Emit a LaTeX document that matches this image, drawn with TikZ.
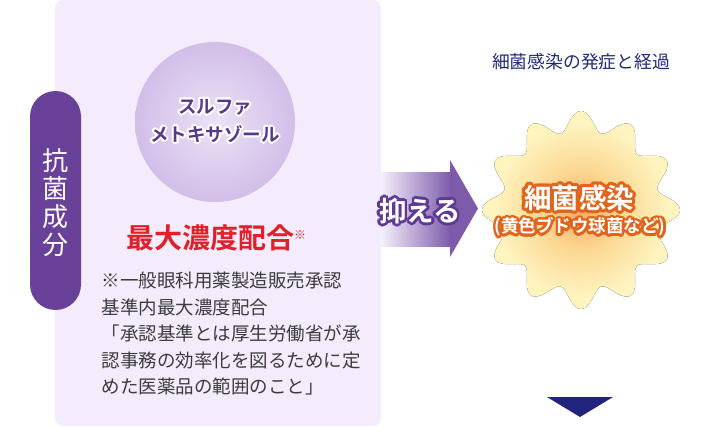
\documentclass[tikz,border=0pt]{standalone}
\usepackage{fontspec}
\setmainfont{Noto Sans CJK JP}[BoldFont={Noto Sans CJK JP Bold}]
\usetikzlibrary{positioning, calc}
\definecolor{panelback}{HTML}{F4ECFC}
\definecolor{tabpurple}{HTML}{6A4199}
\definecolor{ballin}{HTML}{EBE2F7}
\definecolor{ballout}{HTML}{D2BEE8}
\definecolor{drugpurple}{HTML}{583A8C}
\definecolor{dosered}{HTML}{E2202B}
\definecolor{notegray}{HTML}{3C3C3C}
\definecolor{arrowlight}{HTML}{F5EFFC}
\definecolor{arrowdark}{HTML}{7D5BAA}
\definecolor{rimpurple}{HTML}{5E3A94}
\definecolor{burstcore}{HTML}{F6AA62}
\definecolor{burstmid}{HTML}{FBD792}
\definecolor{burstedge}{HTML}{FEF4C0}
\definecolor{infectorange}{HTML}{E0641C}
\definecolor{titlenavy}{HTML}{1F2A78}
\definecolor{marknavy}{HTML}{22237F}
\pgfdeclareradialshading{burst}{\pgfpoint{0bp}{0bp}}{color(0bp)=(burstcore); color(10bp)=(burstmid); color(22bp)=(burstedge); color(50bp)=(burstedge)}
% outline copies drawn behind a label
\newcommand{\rimcopies}[5]{%
  \foreach \ang in {0,22.5,...,337.5}
    \node[#2, text=#3] at ([shift={(\ang:#4)}]#1) {#5};
}
\tikzset{
  tabtext/.style={text=white, font=\fontsize{26}{28}\selectfont, align=center, inner sep=0pt},
  druglabel/.style={text=drugpurple, font=\bfseries\fontsize{18.5}{28}\selectfont, align=center, inner sep=0pt},
  dosetext/.style={text=dosered, font=\bfseries\fontsize{28}{30}\selectfont, inner sep=0pt},
  notetext/.style={text=notegray, font=\fontsize{18.5}{26.5}\selectfont, align=left, anchor=north west, inner sep=0pt},
  suppresstext/.style={text=white, font=\bfseries\fontsize{27.5}{30}\selectfont, inner sep=0pt},
  infecttext/.style={text=white, font=\bfseries\fontsize{27.5}{30}\selectfont, inner sep=0pt},
  kindtext/.style={text=white, font=\bfseries\fontsize{17.5}{20}\selectfont, inner sep=0pt},
  titletext/.style={text=titlenavy, font=\fontsize{17.8}{20}\selectfont, inner sep=0pt}
}
\begin{document}
\begin{tikzpicture}[x=1pt, y=-1pt]
  \useasboundingbox (0,0) rectangle (710,428);
  % left panel
  \fill[panelback, rounded corners=8] (55,0) rectangle (381,426);
  \fill[tabpurple, rounded corners=25.5] (30,91) rectangle (81,310);
  \node[tabtext] (tab) at (55.5,203) {抗\\菌\\成\\分};

  \shade[inner color=ballin, outer color=ballout] (215,122) circle (80);
  \rimcopies{215,121}{druglabel}{white}{1.8}{スルファ\\メトキサゾール}
  \node[druglabel] (drug) at (215,121) {スルファ\\メトキサゾール};

  \node[dosetext] (dose) at (216,238) {最大濃度配合\raisebox{9pt}{\fontsize{12}{12}\selectfont ※}};
  \node[notetext] (note) at (101.5,272) {※一般眼科用薬製造販売承認\\基準内最大濃度配合\\「承認基準とは厚生労働省が承\\認事務の効率化を図るために定\\めた医薬品の範囲のこと」};

  % arrow
  \shade[left color=arrowlight, right color=arrowdark] (381,172) rectangle (450.5,246);
  \fill[arrowdark] (450,160) -- (478,208.5) -- (450,257) -- cycle;
  \rimcopies{420,211}{suppresstext}{rimpurple}{2.6}{抑える}
  \node[suppresstext] (suppress) at (420,211) {抑える};

  % right side
  \node[titletext] (title) at (581,62) {細菌感染の発症と経過};
  \fill[shading=burst, shift={(581,210)}]
    plot[domain=0:360, samples=241, variable=\t] ({\t}:{89+10*cos(12*\t)}) -- cycle;
  \rimcopies{579,198}{infecttext}{infectorange}{3}{細菌感染}
  \node[infecttext] (infect) at (579,198) {細菌感染};
  \rimcopies{580,227}{kindtext}{infectorange}{2.5}{(黄色ブドウ球菌など)}
  \node[kindtext] (kind) at (580,227) {(黄色ブドウ球菌など)};
  \fill[marknavy] (547,397) -- (613,397) -- (580,417) -- cycle;
\end{tikzpicture}
\end{document}
